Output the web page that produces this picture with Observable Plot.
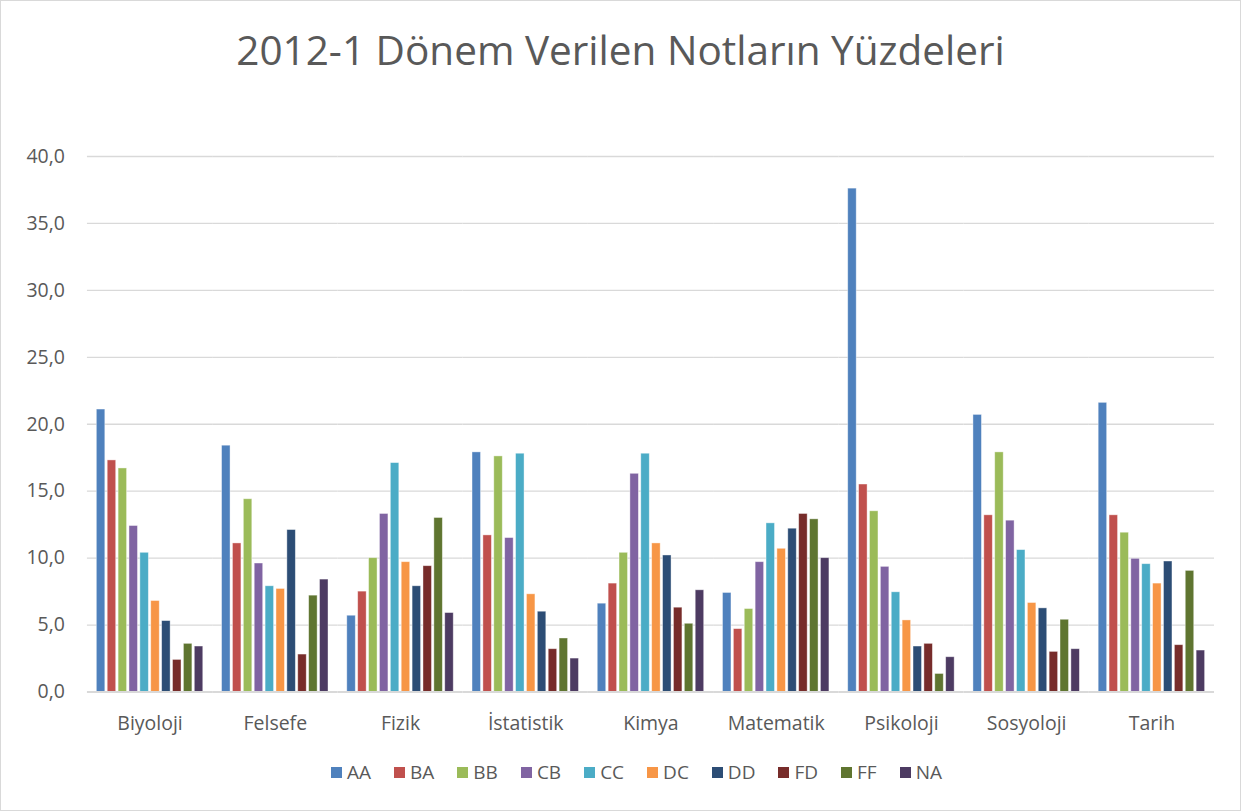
<!DOCTYPE html>
<html>
<head>
<meta charset="utf-8">
<script src="https://cdn.jsdelivr.net/npm/d3@7"></script>
<script src="https://cdn.jsdelivr.net/npm/@observablehq/plot@0.6"></script>
<style>
  html, body { margin: 0; padding: 0; background: #fff; }
  #chart { position: relative; width: 1239px; height: 809px; border: 1px solid #d9d9d9; font-family: "Open Sans", sans-serif; color: #595959; overflow: hidden; }
  #title { position: absolute; top: 21px; left: 0; width: 100%; text-align: center; font-size: 40.5px; color: #595959; }
  #plot { position: absolute; top: 139px; left: -1px; }
  #legend { position: absolute; top: 758px; left: 16px; width: 100%; display: flex; justify-content: center; gap: 23px; font-size: 19px; color: #595959; }
  #legend span.item { display: flex; align-items: center; gap: 5px; }
  #legend span.sw { display: inline-block; width: 11px; height: 11px; }
</style>
</head>
<body>
<div id="chart">
  <div id="title">2012-1 Dönem Verilen Notların Yüzdeleri</div>
  <div id="plot"></div>
  <div id="legend"></div>
</div>
<script>
const categories = ["Biyoloji", "Felsefe", "Fizik", "İstatistik", "Kimya", "Matematik", "Psikoloji", "Sosyoloji", "Tarih"];
const grades = ["AA", "BA", "BB", "CB", "CC", "DC", "DD", "FD", "FF", "NA"];
const colors = ["#4F81BD", "#C0504D", "#9BBB59", "#8064A2", "#4BACC6", "#F79646", "#2C4D75", "#772C2A", "#5F7530", "#4D3B62"];
const yTicks = [0, 5, 10, 15, 20, 25, 30, 35, 40];

// values per category, in grade order AA..NA
const Biyoloji   = [21.1, 17.3, 16.7, 12.4, 10.4, 6.8, 5.3, 2.4, 3.6, 3.4];
const Felsefe    = [18.4, 11.1, 14.4, 9.6, 7.9, 7.7, 12.1, 2.8, 7.2, 8.4];
const Fizik      = [5.7, 7.5, 10.0, 13.3, 17.1, 9.7, 7.9, 9.4, 13.0, 5.9];
const Istatistik = [17.9, 11.7, 17.6, 11.5, 17.8, 7.3, 6.0, 3.2, 4.0, 2.5];
const Kimya      = [6.6, 8.1, 10.4, 16.3, 17.8, 11.1, 10.2, 6.3, 5.1, 7.6];
const Matematik  = [7.4, 4.7, 6.2, 9.7, 12.6, 10.7, 12.2, 13.3, 12.9, 10.0];
const Psikoloji  = [37.6, 15.5, 13.5, 9.35, 7.45, 5.35, 3.4, 3.6, 1.35, 2.6];
const Sosyoloji  = [20.7, 13.2, 17.9, 12.8, 10.6, 6.65, 6.25, 3.0, 5.4, 3.2];
const Tarih      = [21.6, 13.2, 11.9, 9.95, 9.55, 8.1, 9.75, 3.5, 9.05, 3.1];

const seriesByCat = [Biyoloji, Felsefe, Fizik, Istatistik, Kimya, Matematik, Psikoloji, Sosyoloji, Tarih];
const data = [];
categories.forEach((c, i) => grades.forEach((g, j) => data.push({cat: c, grade: g, value: seriesByCat[i][j]})));

const fmt = d => d.toFixed(1).replace(".", ",");

const W = 1241, ML = 87, MR = 26;
const padInner = 0.15, padOuter = 0.075;
const step = (W - ML - MR) / (categories.length - padInner + 2 * padOuter);
const ext = -step * padOuter; // extend grid rules across facet gaps

const plot = Plot.plot({
  width: W,
  height: 612,
  marginLeft: ML,
  marginRight: MR,
  marginTop: 16,
  marginBottom: 60,
  style: {fontFamily: "Open Sans, sans-serif", fontSize: "19.5px", color: "#595959", background: "transparent"},
  fx: {domain: categories, paddingInner: padInner, paddingOuter: padOuter, round: false, label: null, axis: "bottom", tickSize: 0, tickPadding: 24},
  x: {domain: grades, axis: null, paddingInner: 0.22, paddingOuter: 0, round: false},
  y: {domain: [0, 40], ticks: yTicks, label: null, tickSize: 0, tickPadding: 32, tickFormat: fmt},
  color: {domain: grades, range: colors},
  marks: [
    Plot.ruleY(yTicks.slice(1), {stroke: "#d9d9d9", strokeWidth: 1.3, insetLeft: ext, insetRight: ext}),
    Plot.barY(data, {fx: "cat", x: "grade", y: "value", fill: "grade", stroke: "#ffffff", strokeOpacity: 0.5, strokeWidth: 0.8}),
    Plot.ruleY([0], {stroke: "#d9d9d9", strokeWidth: 2, insetLeft: ext, insetRight: ext})
  ]
});
document.getElementById("plot").appendChild(plot);

const legend = document.getElementById("legend");
grades.forEach((g, i) => {
  const item = document.createElement("span");
  item.className = "item";
  const sw = document.createElement("span");
  sw.className = "sw";
  sw.style.background = colors[i];
  item.appendChild(sw);
  item.appendChild(document.createTextNode(g));
  legend.appendChild(item);
});
</script>
</body>
</html>
